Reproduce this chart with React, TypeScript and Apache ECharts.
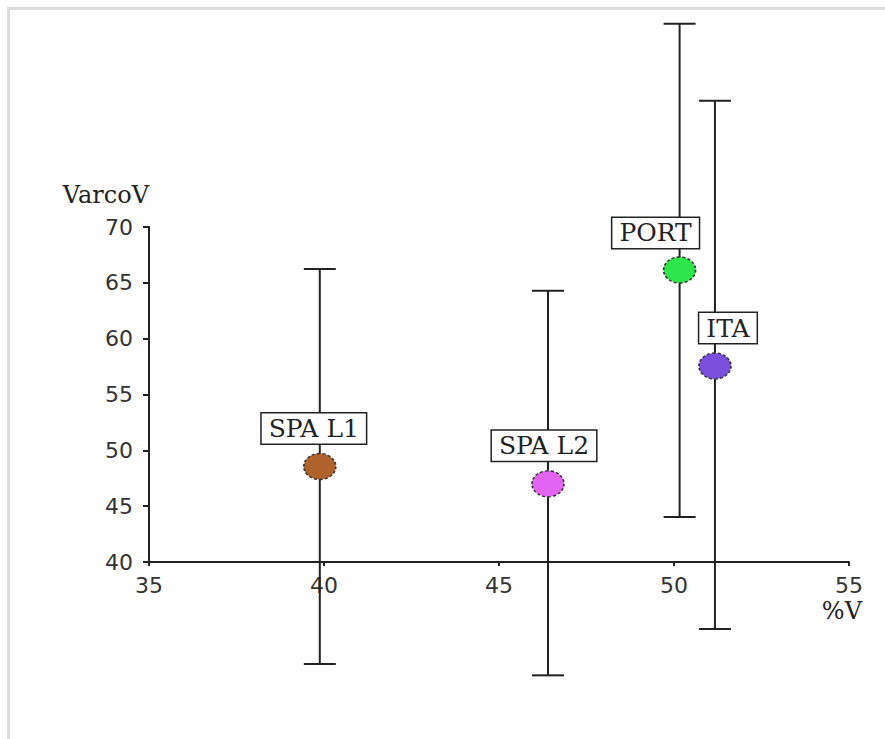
import React, { useEffect, useRef } from "react";
import * as echarts from "echarts";

const names = ["SPA L1", "SPA L2", "PORT", "ITA"];
const xValues = [39.88, 46.4, 50.16, 51.17];
const yValues = [48.55, 47.0, 66.15, 57.55];
const lowValues = [30.87, 29.85, 44.03, 34.0];
const highValues = [66.23, 64.29, 88.2, 81.3];
const colors = ["#b0622c", "#e264f2", "#2ee64a", "#7a4fdc"];
const labelOffsets = [[-6, -38], [-4, -38], [-24, -37], [13, -38]];
const xTicks = { min: 35, max: 55, interval: 5 };
const yTicks = { min: 40, max: 70, interval: 5 };

export default function App() {
  const ref = useRef<HTMLDivElement>(null);
  useEffect(() => {
    if (!ref.current) return;
    const chart = echarts.init(ref.current, undefined, { renderer: "svg" });
    const serif = "DejaVu Serif";
    const sans = "DejaVu Sans";
    chart.setOption({
      animation: false,
      backgroundColor: "#ffffff",
      grid: { left: 149, right: 36, top: 227, bottom: 177, containLabel: false },
      graphic: [
        { type: "rect", shape: { x: 7, y: 7, width: 878, height: 3 }, style: { fill: "#dcdcdc" }, silent: true },
        { type: "rect", shape: { x: 7, y: 7, width: 3, height: 732 }, style: { fill: "#dcdcdc" }, silent: true },
      ],
      xAxis: {
        type: "value",
        min: xTicks.min,
        max: xTicks.max,
        interval: xTicks.interval,
        name: "%V",
        nameLocation: "end",
        nameGap: 13,
        nameTextStyle: { fontFamily: serif, fontSize: 24, color: "#222", align: "right", verticalAlign: "top", padding: [37, 0, 0, 0] },
        axisLine: { onZero: false, lineStyle: { color: "#222", width: 2 } },
        axisTick: { show: true, length: 4, lineStyle: { color: "#222", width: 2 } },
        axisLabel: { fontFamily: sans, fontSize: 22, color: "#333", margin: 12 },
        splitLine: { show: false },
      },
      yAxis: {
        type: "value",
        min: yTicks.min,
        max: yTicks.max,
        interval: yTicks.interval,
        name: "VarcoV",
        nameLocation: "end",
        nameGap: 20,
        nameTextStyle: { fontFamily: serif, fontSize: 24, color: "#222", align: "right", verticalAlign: "bottom" },
        axisLine: { show: true, onZero: false, lineStyle: { color: "#222", width: 2 } },
        axisTick: { show: true, length: 6, lineStyle: { color: "#222", width: 2 } },
        axisLabel: { fontFamily: sans, fontSize: 22, color: "#333", margin: 16 },
        splitLine: { show: false },
      },
      series: [
        {
          type: "custom",
          name: "errors",
          clip: false,
          silent: true,
          z: 2,
          data: names.map((n, i) => [xValues[i], lowValues[i], highValues[i]]),
          renderItem: (params: any, api: any) => {
            const x = api.value(0);
            const lo = api.coord([x, api.value(1)]);
            const hi = api.coord([x, api.value(2)]);
            const hw = 16;
            const style = { stroke: "#222", lineWidth: 2 };
            return {
              type: "group",
              children: [
                { type: "line", shape: { x1: lo[0], y1: lo[1], x2: hi[0], y2: hi[1] }, style },
                { type: "line", shape: { x1: lo[0] - hw, y1: lo[1], x2: lo[0] + hw, y2: lo[1] }, style },
                { type: "line", shape: { x1: hi[0] - hw, y1: hi[1], x2: hi[0] + hw, y2: hi[1] }, style },
              ],
            };
          },
        },
        {
          type: "scatter",
          name: "points",
          z: 3,
          symbol: "circle",
          symbolSize: [32, 26],
          data: names.map((n, i) => ({
            name: n,
            value: [xValues[i], yValues[i]],
            itemStyle: { color: colors[i] },
            label: { offset: labelOffsets[i] },
          })),
          itemStyle: { borderColor: "#333", borderWidth: 1.5, borderType: [3, 2], opacity: 1 },
          label: {
            show: true,
            position: "inside",
            formatter: (p: any) => p.name,
            fontFamily: serif,
            fontSize: 25,
            lineHeight: 25,
            color: "#222",
            backgroundColor: "#ffffff",
            borderColor: "#222",
            borderWidth: 1.5,
            padding: [3, 7, 2, 7],
          },
          emphasis: { disabled: true },
        },
      ],
    });
    return () => chart.dispose();
  }, []);
  return <div ref={ref} style={{ position: "fixed", left: 0, top: 0, width: 885, height: 739 }} />;
}
